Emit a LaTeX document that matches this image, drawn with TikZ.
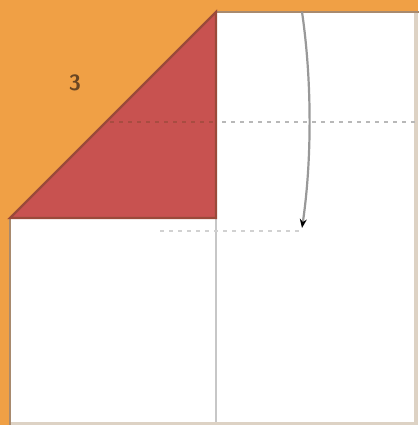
\documentclass[tikz,border=0pt]{standalone}
\usepackage{xcolor}
\usepackage{tikz}
\usetikzlibrary{arrows.meta,calc}
\definecolor{foldorange}{HTML}{F0A045}
\definecolor{flapred}{HTML}{C85250}
\definecolor{paperedge}{HTML}{A88A6E}
\definecolor{flapedge}{HTML}{9A4A3A}
\definecolor{cutedge}{HTML}{DDD2C4}

\begin{document}
\begin{tikzpicture}[x=1pt, y=-1pt,
    paper/.style={fill=white},
    rim/.style={draw=paperedge, line width=2.6pt, line cap=rect},
    farrim/.style={draw=cutedge, line width=3.5pt},
    flap/.style={fill=flapred, draw=flapedge, line width=2.4pt, line join=miter},
    crease/.style={draw=black!22, line width=1.8pt},
    valley/.style={draw=black!28, line width=2.6pt, dash pattern=on 4pt off 5pt},
    mover/.style={draw=black!40, line width=2.2pt, -{Stealth[length=9pt, width=7pt, black]}},
    stepno/.style={font=\sffamily\bfseries\fontsize{22}{22}\selectfont, text=brown!55!black}
]
\useasboundingbox (0,0) rectangle (418,425);
\fill[foldorange] (0,0) rectangle (418,425);
% sheet of paper with the corner taken away
\coordinate (tr) at (418,12);
\coordinate (br) at (418,425);
\coordinate (bl) at (10,425);
\coordinate (ct) at (216,12);
\coordinate (cl) at (10,218);
\coordinate (cc) at (216,218);
\fill[paper] (ct) -- (tr) -- (br) -- (bl) -- (cl) -- cycle;
\draw[farrim] (416,13) -- (416,423.5) -- (11,423.5);
\draw[rim] (cl) -- (bl);
\draw[rim] (ct) -- (tr);
% creases
\draw[crease] (cc) -- (216,422);
\draw[valley] (105,122) -- (418,122);
\draw[valley, draw=black!18] (160,231) -- (300,231);
% folded flap
\draw[flap] (cl) -- (ct) -- (cc) -- cycle;
\draw[valley, draw=flapedge!70!flapred] (110,122) -- (213,122);
% fold arrow
\coordinate (arrtop) at (302,12);
\coordinate (arrbot) at (302,228);
\draw[mover] (arrtop) .. controls (312,80) and (312,160) .. (arrbot);
\node[stepno] (num) at (75,83) {3};
\end{tikzpicture}
\end{document}
